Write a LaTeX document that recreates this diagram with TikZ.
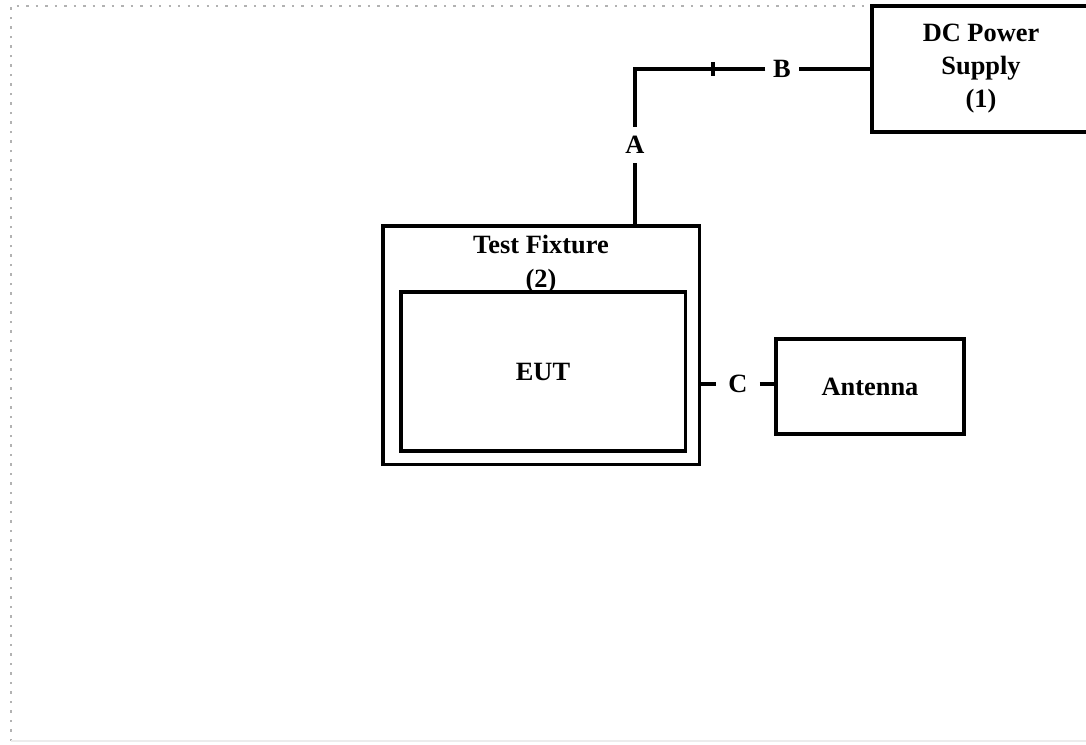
\documentclass[tikz,border=0pt]{standalone}
\usepackage{fontspec}
\setmainfont{Liberation Serif}
\usetikzlibrary{positioning}
\tikzset{
  unit/.style={rectangle, draw=black, line width=0.9pt, inner sep=1pt,
               align=center, font=\bfseries\fontsize{7.5}{9.4}\selectfont},
  caption/.style={align=center, inner sep=1pt,
                  font=\bfseries\fontsize{7.5}{9.6}\selectfont},
  wire/.style={draw=black, line width=0.9pt},
  tag/.style={inner sep=1.5pt, font=\bfseries\fontsize{7.5}{9.4}\selectfont}
}
\begin{document}
\begin{tikzpicture}[x=0.01cm, y=-0.01cm]
\useasboundingbox (0,0) rectangle (1086,744);
\clip (0,0) rectangle (1086,744);
% page frame
\draw[gray!60, dotted, line width=0.7pt] (11,741) -- (11,6) -- (1086,6);
\draw[gray!15] (11,741) -- (1086,741);

% units
\node[unit, minimum width=2.18cm, minimum height=1.26cm] (dc) at (981,69) {DC Power\\Supply\\(1)};
\node[unit, minimum width=3.16cm, minimum height=2.38cm] (fixture) at (541,345) {};
\node[unit, minimum width=2.84cm, minimum height=1.59cm] (eut) at (543,371.5) {EUT};
\node[caption] (fixturetext) at (541,264) {Test Fixture\\(2)};
\node[unit, minimum width=1.88cm, minimum height=0.95cm] (antenna) at (870,386.5) {Antenna};

% cables
\node[tag, inner ysep=2.5pt] (a) at (635,145) {A};
\node[tag, inner xsep=2pt] (b) at (782,69) {B};
\node[tag, inner xsep=3.3pt] (c) at (738,384) {C};
\coordinate (bend) at (a |- b);
\draw[wire] (dc.west) -- (b.east);
\draw[wire] (b.west) -- (bend) -- (a.north);
\draw[wire] (a.south) -- (a |- fixture.north);
\draw[wire] (713,62) -- (713,76);
\draw[wire] (fixture.east |- c) -- (c.west);
\draw[wire] (c.east) -- (antenna.west |- c);
\end{tikzpicture}
\end{document}
